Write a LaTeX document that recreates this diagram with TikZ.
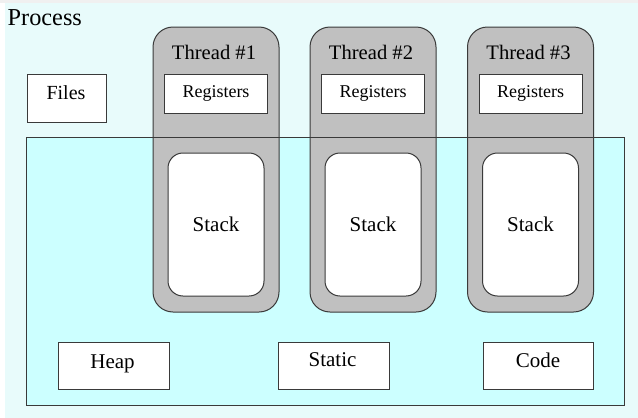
\documentclass[tikz,border=0pt]{standalone}
\usepackage{fontspec}
\setmainfont{Liberation Serif}
\definecolor{pagecyan}{HTML}{E8FBFB}
\definecolor{areacyan}{HTML}{CCFFFF}
\definecolor{threadgray}{HTML}{C0C0C0}
\definecolor{edge}{HTML}{3A3A3A}
\tikzset{
  plainbox/.style={draw=edge, line width=1pt, fill=white, rectangle, inner sep=0pt},
  threadbox/.style={draw=edge, line width=1pt, fill=threadgray, rectangle, rounded corners=20pt, inner sep=0pt,
    minimum width=126pt, minimum height=285pt},
  stackbox/.style={draw=edge, line width=1pt, fill=white, rectangle, rounded corners=15pt, inner sep=0pt,
    minimum width=96pt, minimum height=143pt},
  regbox/.style={plainbox, minimum width=103pt, minimum height=39pt},
  segbox/.style={plainbox, minimum width=110pt, minimum height=47pt},
  lbl/.style={anchor=base, inner sep=0pt, text=black},
}
\begin{document}
\begin{tikzpicture}[x=1pt, y=-1pt]
  \useasboundingbox (0,0) rectangle (638,418);
  % page background
  \fill[white] (0,0) rectangle (638,418);
  \fill[gray!12] (0,0) rectangle (638,3);
  \fill[pagecyan] (5,3) rectangle (638,418);

  % process title
  \node[lbl, anchor=base west] (title) at (7.5,25) {\fontsize{24.3}{28}\selectfont Process};

  % files box
  \node[plainbox, minimum width=79pt, minimum height=48pt] (files) at (66.5,98.5) {};
  \node[lbl] (files-t) at (66,99.3) {\fontsize{20}{24}\selectfont Files};

  % shared address space
  \fill[areacyan] (26.5,137) rectangle (624.5,405.5);

  % threads
  \foreach \i/\cx in {1/216, 2/373, 3/530.5}{
    \node[threadbox] (thread\i) at (\cx,169.5) {};
    \node[lbl] (thread\i-t) at (\cx-2,59.3) {\fontsize{20.6}{24}\selectfont Thread \#\i};
    \node[regbox] (reg\i) at (\cx,93.7) {};
    \node[lbl] (reg\i-t) at (\cx,97.3) {\fontsize{18}{22}\selectfont Registers};
    \node[stackbox] (stack\i) at (\cx,224.5) {};
    \node[lbl] (stack\i-t) at (\cx,231) {\fontsize{21}{25}\selectfont Stack};
  }

  % outline of the address space, drawn over the threads
  \draw[edge, line width=1pt] (26.5,137) rectangle (624.5,405.5);

  % data segments
  \node[segbox, minimum width=111pt] (heap) at (113.5,366.3) {};
  \node[lbl] (heap-t) at (112.5,368.3) {\fontsize{21}{25}\selectfont Heap};
  \node[segbox, minimum width=111pt] (static) at (333.5,366.3) {};
  \node[lbl] (static-t) at (332.5,366.7) {\fontsize{21}{25}\selectfont Static};
  \node[segbox, minimum width=110pt] (code) at (538.3,366.3) {};
  \node[lbl] (code-t) at (538,367.7) {\fontsize{21}{25}\selectfont Code};
\end{tikzpicture}
\end{document}
